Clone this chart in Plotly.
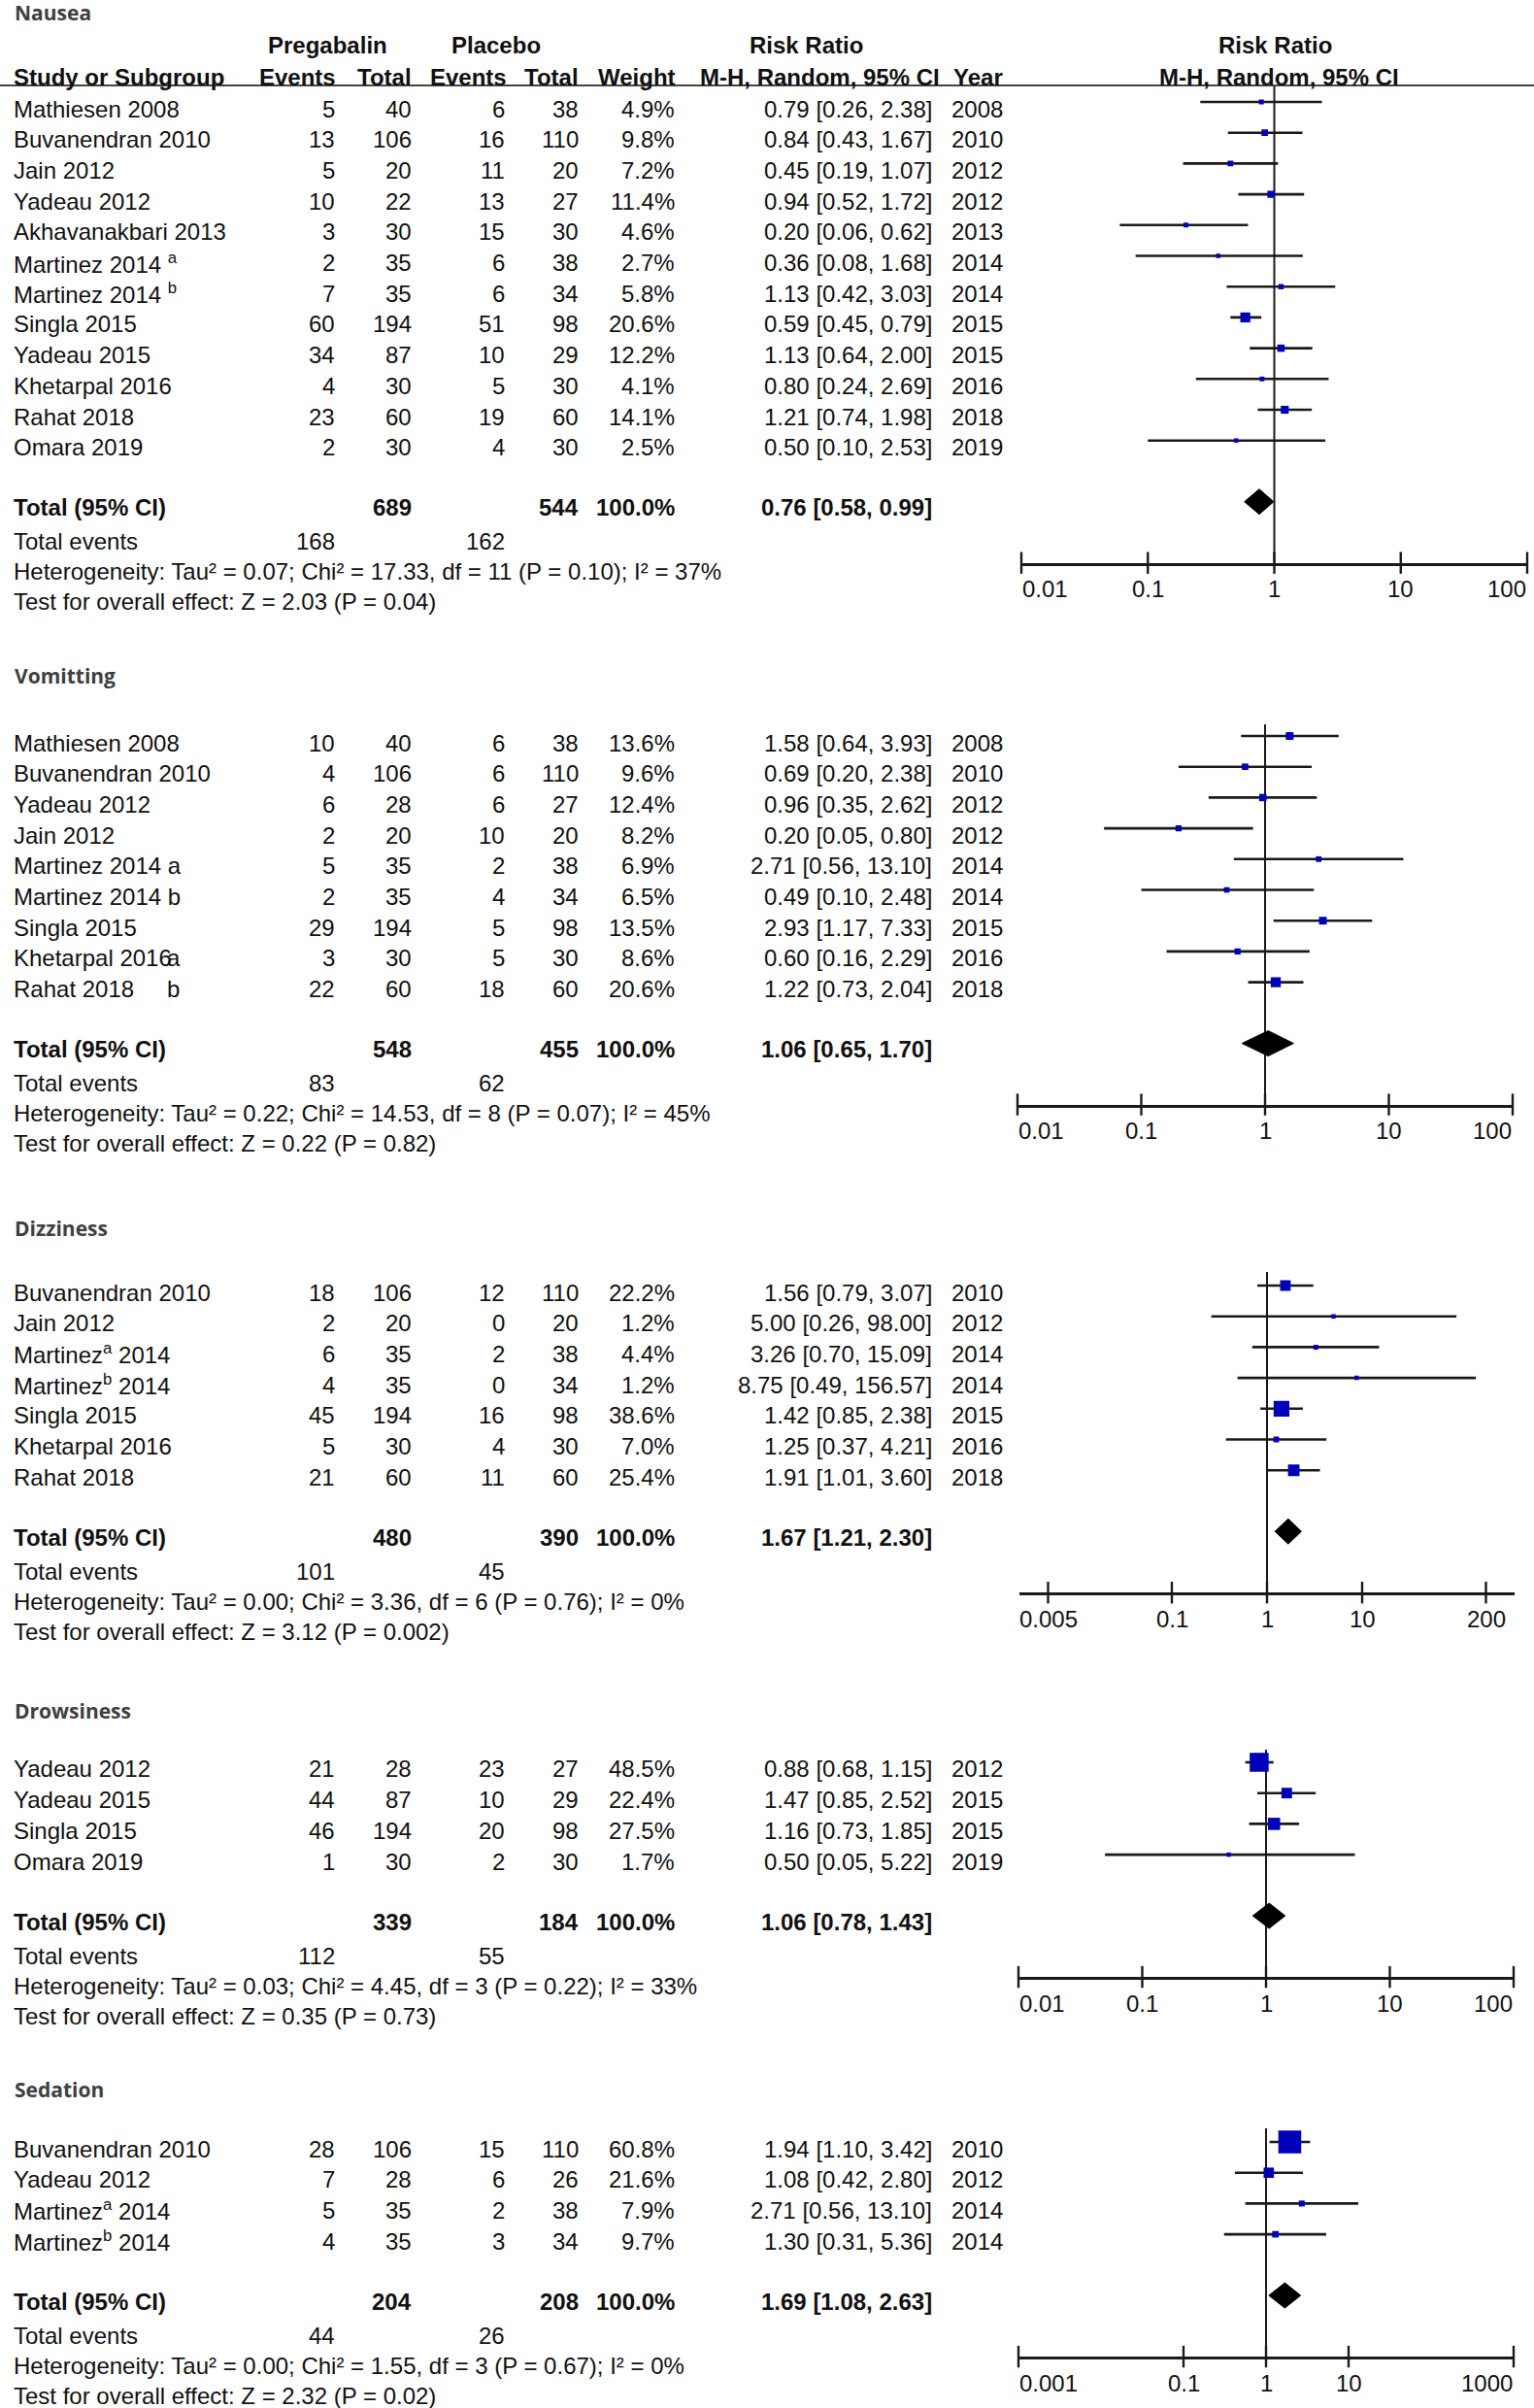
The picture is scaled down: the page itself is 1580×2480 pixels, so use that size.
import numpy as np
import plotly.graph_objects as go

W, H = 1580, 2480

# ---------------- data ----------------
nausea_study = ["Mathiesen 2008", "Buvanendran 2010", "Jain 2012", "Yadeau 2012", "Akhavanakbari 2013",
                "Martinez 2014 <sup>a</sup>", "Martinez 2014 <sup>b</sup>", "Singla 2015", "Yadeau 2015",
                "Khetarpal 2016", "Rahat 2018", "Omara 2019"]
nausea_preg_ev = [5, 13, 5, 10, 3, 2, 7, 60, 34, 4, 23, 2]
nausea_preg_n = [40, 106, 20, 22, 30, 35, 35, 194, 87, 30, 60, 30]
nausea_plac_ev = [6, 16, 11, 13, 15, 6, 6, 51, 10, 5, 19, 4]
nausea_plac_n = [38, 110, 20, 27, 30, 38, 34, 98, 29, 30, 60, 30]
nausea_weight = [4.9, 9.8, 7.2, 11.4, 4.6, 2.7, 5.8, 20.6, 12.2, 4.1, 14.1, 2.5]
nausea_rr = [0.79, 0.84, 0.45, 0.94, 0.20, 0.36, 1.13, 0.59, 1.13, 0.80, 1.21, 0.50]
nausea_lo = [0.26, 0.43, 0.19, 0.52, 0.06, 0.08, 0.42, 0.45, 0.64, 0.24, 0.74, 0.10]
nausea_hi = [2.38, 1.67, 1.07, 1.72, 0.62, 1.68, 3.03, 0.79, 2.00, 2.69, 1.98, 2.53]
nausea_year = [2008, 2010, 2012, 2012, 2013, 2014, 2014, 2015, 2015, 2016, 2018, 2019]
nausea_pooled = [0.76, 0.58, 0.99]
nausea_het = "Heterogeneity: Tau² = 0.07; Chi² = 17.33, df = 11 (P = 0.10); I² = 37%"
nausea_test = "Test for overall effect: Z = 2.03 (P = 0.04)"

vomit_study = ["Mathiesen 2008", "Buvanendran 2010", "Yadeau 2012", "Jain 2012", "Martinez 2014 a",
               "Martinez 2014 b", "Singla 2015", "Khetarpal 2016", "Rahat 2018"]
vomit_note = ["", "", "", "", "", "", "", "a", "b"]
vomit_preg_ev = [10, 4, 6, 2, 5, 2, 29, 3, 22]
vomit_preg_n = [40, 106, 28, 20, 35, 35, 194, 30, 60]
vomit_plac_ev = [6, 6, 6, 10, 2, 4, 5, 5, 18]
vomit_plac_n = [38, 110, 27, 20, 38, 34, 98, 30, 60]
vomit_weight = [13.6, 9.6, 12.4, 8.2, 6.9, 6.5, 13.5, 8.6, 20.6]
vomit_rr = [1.58, 0.69, 0.96, 0.20, 2.71, 0.49, 2.93, 0.60, 1.22]
vomit_lo = [0.64, 0.20, 0.35, 0.05, 0.56, 0.10, 1.17, 0.16, 0.73]
vomit_hi = [3.93, 2.38, 2.62, 0.80, 13.10, 2.48, 7.33, 2.29, 2.04]
vomit_year = [2008, 2010, 2012, 2012, 2014, 2014, 2015, 2016, 2018]
vomit_pooled = [1.06, 0.65, 1.70]
vomit_het = "Heterogeneity: Tau² = 0.22; Chi² = 14.53, df = 8 (P = 0.07); I² = 45%"
vomit_test = "Test for overall effect: Z = 0.22 (P = 0.82)"

dizzy_study = ["Buvanendran 2010", "Jain 2012", "Martinez<sup>a</sup> 2014", "Martinez<sup>b</sup> 2014",
               "Singla 2015", "Khetarpal 2016", "Rahat 2018"]
dizzy_preg_ev = [18, 2, 6, 4, 45, 5, 21]
dizzy_preg_n = [106, 20, 35, 35, 194, 30, 60]
dizzy_plac_ev = [12, 0, 2, 0, 16, 4, 11]
dizzy_plac_n = [110, 20, 38, 34, 98, 30, 60]
dizzy_weight = [22.2, 1.2, 4.4, 1.2, 38.6, 7.0, 25.4]
dizzy_rr = [1.56, 5.00, 3.26, 8.75, 1.42, 1.25, 1.91]
dizzy_lo = [0.79, 0.26, 0.70, 0.49, 0.85, 0.37, 1.01]
dizzy_hi = [3.07, 98.00, 15.09, 156.57, 2.38, 4.21, 3.60]
dizzy_year = [2010, 2012, 2014, 2014, 2015, 2016, 2018]
dizzy_pooled = [1.67, 1.21, 2.30]
dizzy_het = "Heterogeneity: Tau² = 0.00; Chi² = 3.36, df = 6 (P = 0.76); I² = 0%"
dizzy_test = "Test for overall effect: Z = 3.12 (P = 0.002)"

drows_study = ["Yadeau 2012", "Yadeau 2015", "Singla 2015", "Omara 2019"]
drows_preg_ev = [21, 44, 46, 1]
drows_preg_n = [28, 87, 194, 30]
drows_plac_ev = [23, 10, 20, 2]
drows_plac_n = [27, 29, 98, 30]
drows_weight = [48.5, 22.4, 27.5, 1.7]
drows_rr = [0.88, 1.47, 1.16, 0.50]
drows_lo = [0.68, 0.85, 0.73, 0.05]
drows_hi = [1.15, 2.52, 1.85, 5.22]
drows_year = [2012, 2015, 2015, 2019]
drows_pooled = [1.06, 0.78, 1.43]
drows_het = "Heterogeneity: Tau² = 0.03; Chi² = 4.45, df = 3 (P = 0.22); I² = 33%"
drows_test = "Test for overall effect: Z = 0.35 (P = 0.73)"

sed_study = ["Buvanendran 2010", "Yadeau 2012", "Martinez<sup>a</sup> 2014", "Martinez<sup>b</sup> 2014"]
sed_preg_ev = [28, 7, 5, 4]
sed_preg_n = [106, 28, 35, 35]
sed_plac_ev = [15, 6, 2, 3]
sed_plac_n = [110, 26, 38, 34]
sed_weight = [60.8, 21.6, 7.9, 9.7]
sed_rr = [1.94, 1.08, 2.71, 1.30]
sed_lo = [1.10, 0.42, 0.56, 0.31]
sed_hi = [3.42, 2.80, 13.10, 5.36]
sed_year = [2010, 2012, 2014, 2014]
sed_pooled = [1.69, 1.08, 2.63]
sed_het = "Heterogeneity: Tau² = 0.00; Chi² = 1.55, df = 3 (P = 0.67); I² = 0%"
sed_test = "Test for overall effect: Z = 2.32 (P = 0.02)"

ticks_std = [0.01, 0.1, 1, 10, 100]
ticks_dizzy = [0.005, 0.1, 1, 10, 200]
ticks_sed = [0.001, 0.1, 1, 10, 1000]

titles = ["Nausea", "Vomitting", "Dizziness", "Drowsiness", "Sedation"]

# ---------------- build outcome tables ----------------
def outcome(study, pe, pn, ce, cn, w, rr, lo, hi, yr, pooled, het, test, ticks, xlim, note=None):
    return dict(study=study, pe=pe, pn=pn, ce=ce, cn=cn, w=w, rr=rr, lo=lo, hi=hi, yr=yr,
                pooled=pooled, het=het, test=test, ticks=ticks, xlim=xlim,
                note=note or [""] * len(study))

outcomes = [
    outcome(nausea_study, nausea_preg_ev, nausea_preg_n, nausea_plac_ev, nausea_plac_n, nausea_weight,
            nausea_rr, nausea_lo, nausea_hi, nausea_year, nausea_pooled, nausea_het, nausea_test,
            ticks_std, (0.01, 100)),
    outcome(vomit_study, vomit_preg_ev, vomit_preg_n, vomit_plac_ev, vomit_plac_n, vomit_weight,
            vomit_rr, vomit_lo, vomit_hi, vomit_year, vomit_pooled, vomit_het, vomit_test,
            ticks_std, (0.01, 100), vomit_note),
    outcome(dizzy_study, dizzy_preg_ev, dizzy_preg_n, dizzy_plac_ev, dizzy_plac_n, dizzy_weight,
            dizzy_rr, dizzy_lo, dizzy_hi, dizzy_year, dizzy_pooled, dizzy_het, dizzy_test,
            ticks_dizzy, (0.0025, 400)),
    outcome(drows_study, drows_preg_ev, drows_preg_n, drows_plac_ev, drows_plac_n, drows_weight,
            drows_rr, drows_lo, drows_hi, drows_year, drows_pooled, drows_het, drows_test,
            ticks_std, (0.01, 100)),
    outcome(sed_study, sed_preg_ev, sed_preg_n, sed_plac_ev, sed_plac_n, sed_weight,
            sed_rr, sed_lo, sed_hi, sed_year, sed_pooled, sed_het, sed_test,
            ticks_sed, (0.001, 1000)),
]

# ---------------- layout constants (pixels) ----------------
panel_pos = [
    dict(title=13, first=112, top=88, x0=1052, x1=1573),
    dict(title=696, first=765, top=746, x0=1048, x1=1558),
    dict(title=1265, first=1331, top=1310, x0=1050, x1=1560),
    dict(title=1762, first=1822, top=1802, x0=1049, x1=1559),
    dict(title=2152, first=2213, top=2192, x0=1049, x1=1559),
]
ROW_H = 31.7
MARK_DY = -7
COL = dict(name=13, pe=346, pn=425, ce=521, cn=597, w=696, rr=961, yr=979)
FONT = "Liberation Sans, Arial, Helvetica, sans-serif"
FS = 24
TXT = "#111111"
BLUE = "#0000bb"
DARK = "#1a1a1a"

ann = []


def py(p):
    return 1 - p / H


def add_text(s, x, y, anchor="right", bold=False, size=FS, color=TXT, family=FONT):
    ann.append(dict(text=f"<b>{s}</b>" if bold else s, x=x / W, y=py(y), xref="paper", yref="paper",
                    xanchor=anchor, yanchor="middle", showarrow=False, borderpad=0,
                    font=dict(family=family, size=size, color=color)))


fig = go.Figure()

# header (once, above Nausea)
for s, x in [("Pregabalin", 337), ("Placebo", 511), ("Risk Ratio", 830), ("Risk Ratio", 1313)]:
    add_text(s, x, 47, anchor="center", bold=True)
add_text("Study or Subgroup", COL["name"], 79, anchor="left", bold=True)
for s, x in [("Events", 347), ("Total", 425), ("Events", 523), ("Total", 597), ("Weight", 697),
             ("M-H, Random, 95% CI", 969)]:
    add_text(s, x, 79, bold=True)
add_text("Year", 981, 79, anchor="left", bold=True)
add_text("M-H, Random, 95% CI", 1317, 79, anchor="center", bold=True)

shapes = [dict(type="line", xref="paper", yref="paper", x0=0, x1=1, y0=py(88), y1=py(88),
               line=dict(color="#444444", width=2))]

for k, (o, P) in enumerate(zip(outcomes, panel_pos), start=1):
    sfx = "" if k == 1 else str(k)
    xa, ya = "x" + sfx, "y" + sfx
    n = len(o["study"])
    rows = [P["first"] + i * ROW_H for i in range(n)]
    total_y = rows[-1] + 62
    ev_y = total_y + 35
    het_y = ev_y + 31
    test_y = het_y + 31
    axis_y = total_y + 57

    # table text
    add_text(titles[k - 1], 14, P["title"], anchor="left", size=21, color="#404040", bold=True,
             family="Open Sans, Noto Sans, sans-serif")
    for i in range(n):
        y = rows[i]
        add_text(o["study"][i], COL["name"], y, anchor="left")
        if o["note"][i]:
            add_text(o["note"][i], 171, y, anchor="left")
        add_text(str(o["pe"][i]), COL["pe"], y)
        add_text(str(o["pn"][i]), COL["pn"], y)
        add_text(str(o["ce"][i]), COL["ce"], y)
        add_text(str(o["cn"][i]), COL["cn"], y)
        add_text(f"{o['w'][i]:.1f}%", COL["w"], y)
        add_text(f"{o['rr'][i]:.2f} [{o['lo'][i]:.2f}, {o['hi'][i]:.2f}]", COL["rr"], y)
        add_text(str(o["yr"][i]), COL["yr"], y, anchor="left")

    est, plo, phi = o["pooled"]
    add_text("Total (95% CI)", COL["name"], total_y, anchor="left", bold=True)
    add_text(str(sum(o["pn"])), COL["pn"], total_y, bold=True)
    add_text(str(sum(o["cn"])), COL["cn"], total_y, bold=True)
    add_text("100.0%", COL["w"], total_y, bold=True)
    add_text(f"{est:.2f} [{plo:.2f}, {phi:.2f}]", COL["rr"], total_y, bold=True)
    add_text("Total events", COL["name"], ev_y, anchor="left")
    add_text(str(sum(o["pe"])), COL["pe"], ev_y)
    add_text(str(sum(o["ce"])), COL["ce"], ev_y)
    add_text(o["het"], COL["name"], het_y, anchor="left")
    add_text(o["test"], COL["name"], test_y, anchor="left")

    # forest plot
    fig.add_trace(go.Scatter(x=[1, 1], y=[P["top"], axis_y], xaxis=xa, yaxis=ya, mode="lines",
                             line=dict(color=DARK, width=2), hoverinfo="skip"))
    ci_x, ci_y = [], []
    for i in range(n):
        ci_x += [o["lo"][i], o["hi"][i], None]
        ci_y += [rows[i] + MARK_DY, rows[i] + MARK_DY, None]
    fig.add_trace(go.Scatter(x=ci_x, y=ci_y, xaxis=xa, yaxis=ya, mode="lines",
                             line=dict(color=DARK, width=2.6), hoverinfo="skip"))
    fig.add_trace(go.Scatter(x=o["rr"], y=[r + MARK_DY for r in rows], xaxis=xa, yaxis=ya, mode="markers",
                             marker=dict(symbol="square", color=BLUE, opacity=1, line_width=0,
                                         size=[max(4.5, 3.5 + 0.33 * w) for w in o["w"]]),
                             hoverinfo="skip"))
    dy = total_y + MARK_DY + 1
    fig.add_trace(go.Scatter(x=[plo, est, phi, est, plo], y=[dy, dy - 13, dy, dy + 13, dy],
                             xaxis=xa, yaxis=ya, mode="lines", fill="toself", fillcolor="black",
                             line=dict(color="black", width=1), hoverinfo="skip"))
    fig.add_trace(go.Scatter(x=o["ticks"], y=[axis_y] * len(o["ticks"]), xaxis=xa, yaxis=ya, mode="markers",
                             marker=dict(symbol="line-ns", size=16, line=dict(color=DARK, width=2.4)),
                             cliponaxis=False, hoverinfo="skip"))

    lo_lim, hi_lim = o["xlim"]
    for t in o["ticks"]:
        anchor = "left" if np.isclose(t, lo_lim) else ("right" if np.isclose(t, hi_lim) else "center")
        ann.append(dict(text=f"{t:g}", x=np.log10(t), xref=xa, y=py(axis_y + 27), yref="paper",
                        xanchor=anchor, yanchor="middle", showarrow=False, borderpad=0,
                        font=dict(family=FONT, size=FS, color=TXT)))

    fig.update_layout(**{
        "xaxis" + sfx: dict(type="log", range=[np.log10(lo_lim), np.log10(hi_lim)],
                            domain=[P["x0"] / W, P["x1"] / W], anchor=ya, showline=True,
                            linecolor=DARK, linewidth=2.6, ticks="", showticklabels=False,
                            showgrid=False, zeroline=False),
        "yaxis" + sfx: dict(range=[axis_y, P["top"]], domain=[py(axis_y), py(P["top"])], anchor=xa,
                            visible=False, showgrid=False, zeroline=False),
    })

fig.update_layout(width=W, height=H, margin=dict(l=0, r=0, t=0, b=0), showlegend=False,
                  paper_bgcolor="white", plot_bgcolor="rgba(0,0,0,0)",
                  annotations=ann, shapes=shapes)

fig.write_html("out.html", config={"displayModeBar": False},
               post_script="document.body.style.margin='0';")
